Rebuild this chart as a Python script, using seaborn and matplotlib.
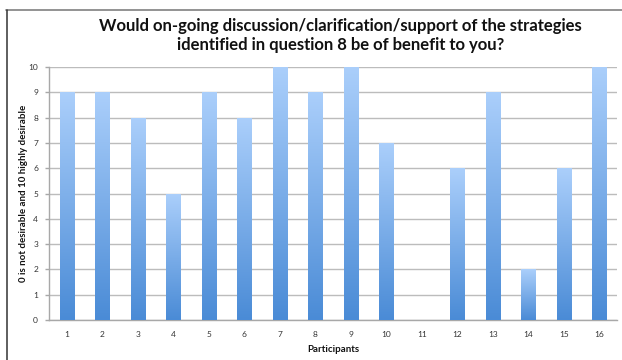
import numpy as np
import pandas as pd
import matplotlib
matplotlib.use("Agg")
import matplotlib.pyplot as plt
from matplotlib.colors import LinearSegmentedColormap
from matplotlib.lines import Line2D
import seaborn as sns

participants = [str(i) for i in range(1, 17)]
ratings = [9, 9, 8, 5, 9, 8, 10, 9, 10, 7, 0, 6, 9, 2, 6, 10]
y_ticks = list(range(0, 11))

title_text = ("Would on-going discussion/clarification/support of the strategies\n"
              "identified in question 8 be of benefit to you?")
x_label = "Participants"
y_label = "0 is not desirable and 10 highly desirable"

df = pd.DataFrame({"participant": participants, "rating": ratings})

sns.set_theme(style="white")
plt.rcParams["font.family"] = ["Lato", "DejaVu Sans"]

fig = plt.figure(figsize=(6.22, 3.6), dpi=100)
ax = fig.add_axes([0.079, 0.111, 0.913, 0.703])

sns.barplot(data=df, x="participant", y="rating", ax=ax, width=0.4,
            color="#6fa8e8", saturation=1, edgecolor="none", zorder=2)

# vertical gradient fill inside every bar
grad = LinearSegmentedColormap.from_list("barfill", ["#4a8bd6", "#abcffb"])
gimg = np.linspace(0, 1, 256).reshape(-1, 1)
for patch in ax.patches:
    x0, y0 = patch.get_x(), patch.get_y()
    w, h = patch.get_width(), patch.get_height()
    if h <= 0:
        continue
    im = ax.imshow(gimg, cmap=grad, origin="lower", aspect="auto",
                   extent=[x0, x0 + w, y0, y0 + h], zorder=3, interpolation="bilinear")
    im.set_clip_path(patch)
    patch.set_facecolor("none")

ax.set_xlim(-0.5, len(participants) - 0.5)
ax.set_ylim(0, 10)
ax.set_yticks(y_ticks)
ax.yaxis.grid(True, color="#bcbcbc", linewidth=1.0, zorder=0)
ax.set_axisbelow(True)

for side in ["top", "right"]:
    ax.spines[side].set_visible(False)
for side in ["left", "bottom"]:
    ax.spines[side].set_color("#a8a8a8")
    ax.spines[side].set_linewidth(1.0)

ax.tick_params(axis="y", which="major", length=3, width=1, color="#a8a8a8",
               labelsize=6, labelcolor="#333333", pad=5, left=True)
ax.tick_params(axis="x", which="major", length=0, labelsize=6,
               labelcolor="#333333", pad=8)

ax.set_xlabel(x_label, fontsize=7, fontweight="bold", color="#111111")
ax.set_ylabel(y_label, fontsize=7, fontweight="bold", color="#111111")
ax.xaxis.set_label_coords(0.5, -0.1)
ax.yaxis.set_label_coords(-0.037, 0.5)

fig.text(0.548, 0.902, title_text, ha="center", va="center", fontsize=12,
         fontweight="bold", color="#111111", linespacing=1.25)

# chart frame (top and left edges)
fig.add_artist(Line2D([6 / 622, 1.0], [1 - 9.5 / 360, 1 - 9.5 / 360],
                      transform=fig.transFigure, color="#8a8a8a", linewidth=1.3))
fig.add_artist(Line2D([6.5 / 622, 6.5 / 622], [0, 1 - 9.5 / 360],
                      transform=fig.transFigure, color="#333333", linewidth=1.1))

fig.savefig("out.png", dpi=100)
